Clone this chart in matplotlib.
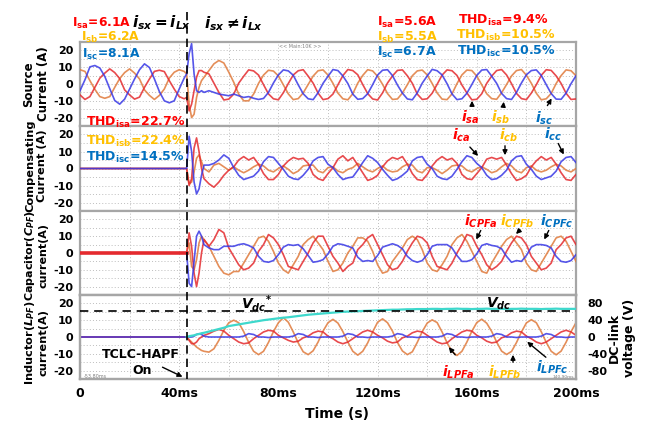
import numpy as np
import matplotlib
matplotlib.use("Agg")
import matplotlib.pyplot as plt
from matplotlib import transforms
from matplotlib.lines import Line2D

plt.rcParams['font.family'] = ['DejaVu Sans']
plt.rcParams['mathtext.fontset'] = 'dejavusans'
plt.rcParams['mathtext.default'] = 'bf'
plt.rcParams['axes.unicode_minus'] = False

# ---------------- data ----------------
t_ms = list(range(0, 43, 2)) + [43, 44, 45, 46, 47, 48, 49, 50] + list(range(52, 201, 2))
t_switch = 43
x_ticks = [0, 40, 80, 120, 160, 200]
x_ticklabels = ['0', '40ms', '80ms', '120ms', '160ms', '200ms']
i_ticks = [20, 10, 0, -10, -20]
v_ticks = [80, 40, 0, -40, -80]
vdc_ref = 62

zeros_pre = [0.0] * 22

# source currents
src_a = ([-6.5, -9.2, -7.5, -2.0, 3.5, 6.5, 9.0, 6.8, 3.2, -3.5, -6.5, -9.0, -7.8, -2.0, 3.0, 7.5, 8.2, 7.4, 2.0, -3.0, -7.5, -8.8]
         + [-8, -16, -12, -4, 4, 8, 8, 7]
         + [6.0, 0.5, -5.0, -9.5, -9.0, -6.0, 0.5, 4.6, 8.4, 7.8,
            5.3, -0.4, -5.9, -8.8, -9.4, -5.2, 0.3, 5.4, 7.9, 8.5,
            4.7, 0.5, -5.4, -9.3, -8.7, -6.0, -0.5, 5.0, 8.6, 8.0,
            5.5, -0.3, -5.7, -8.9, -9.5, -5.3, 0.6, 4.8, 8.1, 8.4,
            4.9, 0.4, -6.0, -9.2, -8.8, -5.5, -0.2, 5.3, 8.4, 7.9,
            5.1, -0.6, -5.3, -9.4, -9.1, -5.8, 0.4, 4.7, 8.0, 8.6,
            5.4, 0.2, -5.6, -8.7, -9.3, -5.4, -0.4, 5.2, 8.5, 8.1,
            4.8, 0.3, -5.5, -9.2, -8.9])
src_b = ([8.5, 7.5, 2.0, -3.2, -7.5, -8.5, -7.5, -2.0, 3.2, 6.8, 9.0, 6.5, 3.0, -3.5, -6.8, -9.2, -6.8, -3.0, 3.5, 7.0, 8.5, 7.5]
         + [6, -12, -20, -18, -8, -2, 2, 4]
         + [8, 12, 14, 12.5, 7, 1, -6, -10, -10, -6,
            0.4, 5.3, 8.2, 7.7, 4.8, -0.5, -5.9, -9.3, -8.7, -5.3,
            -0.3, 4.7, 7.9, 8.4, 5.3, 0.4, -5.4, -8.8, -9.4, -5.8,
            0.5, 5.1, 8.5, 7.8, 4.6, -0.2, -5.7, -9.2, -8.9, -5.4,
            -0.4, 4.9, 7.8, 8.3, 5.4, 0.3, -5.3, -9.0, -9.3, -5.9,
            0.2, 5.4, 8.3, 8.0, 4.7, -0.5, -5.8, -8.7, -9.1, -5.2,
            -0.3, 4.8, 8.0, 8.6, 5.2, 0.4, -5.5, -9.4, -8.8, -5.6,
            0.3, 5.0, 8.4, 7.9, 4.9])
src_c = ([-4.0, 2.5, 10.2, 11.0, 9.5, 4.5, -2.8, -9.8, -12.0, -9.0, -3.0, 3.0, 8.5, 12.0, 9.8, 3.0, -4.5, -10.0, -11.2, -10.0, -3.0, 3.5]
         + [6, 18, 24, 6, -4, -5, -4, -5]
         + [-4, -5, -6, -6.5, -7, -6, -7, -8, -7.5, -8.5,
            -9.2, -8.6, -5.0, 0.6, 5.4, 8.4, 7.8, 5.2, -0.5, -5.8,
            -8.8, -9.3, -5.2, 0.4, 4.6, 8.6, 8.0, 4.8, 0.3, -6.0,
            -9.1, -8.7, -5.8, -0.4, 5.3, 8.2, 8.5, 5.0, -0.6, -5.4,
            -8.9, -9.4, -5.3, 0.5, 4.8, 8.7, 7.9, 5.4, 0.2, -5.9,
            -9.3, -8.8, -5.5, -0.3, 5.1, 8.3, 8.6, 4.7, 0.4, -5.6,
            -8.7, -9.2, -5.0, 0.6, 5.5, 8.0, 8.4, 5.1, -0.4, -5.7,
            -9.0, -9.1, -5.4, 0.2, 4.9])

# compensating currents
comp_a = (zeros_pre + [0, -10, -6, 12, 18, 10, 0, -6]
          + [-9, -11, -8, -4, -1,
             1, 5, 7, 5, 6.5, 2.5, -3, -6.5, -6.5, -3.5,
             1.5, 4.5, 6.5, 5.5, 6, 3, -3.5, -6, -7, -3,
             0.5, 5.5, 7.5, 4.5, 6.5, 2, -2.5, -7, -6, -4,
             1, 4.5, 6.5, 5.5, 7, 2.5, -3, -6.5, -7, -3.5,
             1.5, 5, 7, 5, 6, 3, -3.5, -6, -6.5, -3,
             0.5, 5.5, 6.5, 5.5, 6.5, 2, -3, -7, -6, -4,
             1, 4.5, 7, 5, 6.5, 2.5, -2.5, -6.5, -7, -3.5])
comp_b = (zeros_pre + [0, -9, -8, -2, 6, 8, 4, 0]
          + [-2, 2, 3, 1, -1,
             1, -1, -2.5, -1, 1, 2.5, 1.5, -1, -2, 0,
             1.5, -0.5, -3, -1.5, 1.5, 2, 2, -1.5, -2.5, 0.5,
             1, -1.5, -2.5, -0.5, 0.5, 3, 1, -1, -2, 0,
             1.5, -1, -2, -1.5, 1, 2.5, 2, -1.5, -2.5, 0.5,
             0.5, -1, -3, -1, 1.5, 2, 1.5, -1, -2, 0,
             1, -0.5, -2.5, -1.5, 1, 3, 1.5, -1.5, -2.5, 0.5,
             1.5, -1, -2, -1, 1, 2.5, 1.5, -1, -2, 0])
comp_c = (zeros_pre + [0, 19, 10, -8, -15, -12, -4, 2]
          + [2, 3, 5, 8, 6,
             0.5, -4, -6.5, -5.5, -4.5, -1.5, 4, 7, 6.5, 3,
             -0.5, -4.5, -6, -6.5, -4, -0.5, 4.5, 6.5, 7, 2.5,
             0.5, -3.5, -6.5, -5.5, -5, -1, 3.5, 7.5, 6, 3.5,
             -0.5, -4, -7, -6, -4, -1.5, 4.5, 6.5, 7, 2.5,
             0, -4.5, -6, -6.5, -4.5, -0.5, 4, 7.5, 6.5, 3,
             0.5, -4, -6.5, -6, -4, -1, 4.5, 7, 7.5, 2.5,
             -0.5, -4.5, -6.5, -5.5, -4.5, -1.5, 4, 6.5, 7, 3.5])

# capacitor currents
cap_a = (zeros_pre + [0, 12, 4, -12, -20, -12, 0, 8]
         + [4, 8, 14, 12, 3,
            -2, -7, -10, -9, -6, 1, 5, 11, 9, 5,
            -1, -8, -9, -10, -5, 0, 6, 10, 10, 4,
            -2, -6, -11, -8, -6, 2, 5, 9, 11, 5,
            -1, -7, -10, -9, -5, 1, 6, 10, 9, 6,
            -2, -8, -9, -10, -6, 0, 5, 11, 10, 4,
            -1, -7, -10, -8, -5, 1, 6, 10, 9, 5,
            -2, -6, -10, -9, -6, 2, 5, 9, 10, 5])
cap_b = (zeros_pre + [0, 6, -8, -10, -4, 6, 10, 8]
         + [4, -2, -8, -12, -13,
            -11, -11, -6, -1, 4, 9, 10, 7, 1, -6,
            -10, -12, -7, -2, 5, 8, 10, 6, 2, -5,
            -11, -10, -6, 0, 4, 9, 9, 7, 1, -7,
            -12, -11, -5, -1, 3, 8, 10, 8, 2, -6,
            -10, -11, -7, -2, 5, 9, 11, 7, 1, -5,
            -11, -12, -6, -1, 4, 8, 10, 6, 2, -6,
            -10, -11, -6, -1, 4, 9, 10, 7, 1, -5])
cap_c = (zeros_pre + [0, -18, -20, -5, 10, 13, 10, 5]
         + [3, 2, 2, 4, 4,
            4, 5, 5.5, 4.5, 3, -2, -5, -5.5, -4.5, -1,
            3.5, 5, 4.5, 5, 2.5, -1.5, -5.5, -5, -4, -0.5,
            4, 5.5, 5, 4, 3, -2.5, -5, -4.5, -5, -1.5,
            3.5, 4.5, 5.5, 4.5, 2.5, -2, -4.5, -5.5, -4.5, -1,
            4, 5, 5, 5, 3, -1.5, -5, -5, -4, -0.5,
            4.5, 5.5, 4.5, 4, 2.5, -2, -5.5, -4.5, -5, -1.5,
            3.5, 5, 5, 4.5, 3, -2, -5, -5.5, -4.5, -1])

# inductor currents
ind_a = (zeros_pre + [0, -2, -4, -4, -3, -1, 0, 1]
         + [2, 3.5, 4.5, 3.5, 1,
            -1, -3, -4, -3.5, -1, 1, 3, 4, 3.5, 1,
            -0.5, -2, -3, -2.5, -0.5, 0.5, 2.5, 3.5, 3, 0.5,
            -1, -3, -4, -3, -1, 1, 3, 4, 3, 1,
            -0.5, -2.5, -3.5, -3, -0.5, 0.5, 2.5, 3.5, 3, 1,
            -1, -3, -4, -3.5, -1, 1, 3, 4, 3.5, 1,
            -0.5, -2.5, -3.5, -3, -0.5, 0.5, 2.5, 3.5, 3, 0.5,
            -1, -3, -4, -3, -1, 1, 3, 4, 3, 1])
ind_b = (zeros_pre + [0, -1.5, -3, -4.5, -6, -7, -8, -8.5]
         + [-9, -7, -2, 4, 8.5,
            10.0, 8.5, 3.2, -3.2, -8.5, -10.5, -8.5, -3.2, 3.2, 8.5,
            11.5, 8.8, 3.0, -3.5, -8.8, -10.5, -8.2, -3.0, 3.5, 8.5,
            10.5, 8.3, 3.2, -3.0, -8.5, -10.8, -8.5, -3.5, 3.0, 8.8,
            10.8, 8.5, 3.5, -3.2, -8.3, -10.5, -8.8, -3.2, 3.2, 8.3,
            10.2, 8.6, 3.0, -3.4, -8.6, -11.0, -8.5, -3.0, 3.4, 8.6,
            10.6, 8.2, 3.3, -3.0, -8.4, -10.4, -8.6, -3.3, 3.0, 8.4,
            10.3, 8.5, 3.1, -3.2, -8.5, -10.6, -8.4, -3.1, 3.2, 8.5])
ind_c = (zeros_pre + [0, 0, 0, 0.5, 1.5, 2, 1.5, 0.5]
         + [0, 0, 0, 0, 0,
            0, 0, 0.5, 2, 1.5, 0, 0, -0.3, 0, 0,
            0, 0, 0.5, 2, 1.5, 0, 0, -0.3, 0, 0,
            0, 0, 0.5, 2, 1.5, 0, 0, -0.3, 0, 0,
            0, 0, 0.5, 2, 1.5, 0, 0, -0.3, 0, 0,
            0, 0, 0.5, 2, 1.5, 0, 0, -0.3, 0, 0,
            0, 0, 0.5, 2, 1.5, 0, 0, -0.3, 0, 0,
            0, 0, 0.5, 2, 1.5, 0, 0, -0.3, 0, 0])

# DC-link voltage
vdc = ([np.nan] * 22 + [0, 2, 3, 4, 6, 7, 9, 10]
       + [13, 16, 19, 22, 26, 28, 30, 32, 34, 36,
          38, 40, 41.5, 43, 44.5, 46, 47, 48.5, 50, 51.5,
          53, 54, 55, 56, 57, 58, 59, 60, 60.5, 61,
          61.5, 62, 62.5, 63, 63.5, 64, 64.5, 65, 65, 65.5,
          66, 66, 66.5, 66.5, 66.5, 67, 67, 66.5, 67, 67,
          67.5, 67, 67, 66.5, 67, 67, 67.5, 67, 67, 67,
          66.5, 67, 67, 67.5, 67, 67, 67, 66.5, 67, 67,
          67.5, 67, 67, 67, 67])

# ---------------- figure ----------------
W, H = 654, 425
fig = plt.figure(figsize=(W / 100, H / 100), dpi=100)


def F(x, y):
    return (x / W, 1 - y / H)


C_RED, C_ORG, C_BLU = '#E42A2E', '#E07A3C', '#3838E6'
T_RED, T_YEL, T_BLU = '#FF0000', '#FFC000', '#0070C0'

panels = [(42, 126), (126, 211), (211, 295), (295, 379)]
axes = []
for top, bot in panels:
    ax = fig.add_axes([80 / W, 1 - bot / H, 496 / W, (bot - top) / H])
    ax.set_xlim(0, 200)
    ax.set_ylim(-25, 25)
    for y in range(-20, 25, 5):
        ax.axhline(y, color='#bdbdbd', lw=0.7, ls=(0, (1, 2.2)), zorder=0)
    for x in range(20, 200, 20):
        ax.axvline(x, color='#bdbdbd', lw=0.7, ls=(0, (1, 2.2)), zorder=0)
    for s in ax.spines.values():
        s.set_color('#a6a6a6')
        s.set_linewidth(1.6)
    ax.set_yticks(i_ticks)
    ax.set_yticklabels([str(v) for v in i_ticks], fontsize=8, fontweight='bold')
    ax.tick_params(axis='y', length=0, pad=5)
    ax.tick_params(axis='x', length=0)
    ax.set_xticks([])
    axes.append(ax)

ax1, ax2, ax3, ax4 = axes
t = np.array(t_ms, float)

lw = 1.2
al = 0.85
for ax, (a, b, c) in zip([ax1, ax2, ax3, ax4],
                         [(src_a, src_b, src_c), (comp_a, comp_b, comp_c),
                          (cap_a, cap_b, cap_c), (ind_a, ind_b, ind_c)]):
    ax.plot(t, b, color=C_ORG, lw=lw, alpha=al, zorder=3)
    ax.plot(t, a, color=C_RED, lw=lw, alpha=al, zorder=4)
    ax.plot(t, c, color=C_BLU, lw=lw, alpha=al, zorder=5)
# thick flat red in capacitor panel before switching
ax3.plot(t[:23], np.array(cap_a[:23]), color=C_RED, lw=2.6, zorder=6)

ax4.set_xticks(x_ticks)
ax4.set_xticklabels(x_ticklabels, fontsize=9, fontweight='bold')
ax4.tick_params(axis='x', length=0, pad=6)

ax4r = ax4.twinx()
ax4r.set_ylim(-100, 100)
ax4r.set_yticks(v_ticks)
ax4r.set_yticklabels([str(v) for v in v_ticks], fontsize=8, fontweight='bold')
ax4r.tick_params(axis='y', length=0, pad=8)
for s in ax4r.spines.values():
    s.set_color('#a6a6a6')
    s.set_linewidth(1.6)
ax4r.plot(t, vdc, color='#3ED8CC', lw=1.6, zorder=6)
ax4r.axhline(vdc_ref, color='black', lw=1.2, ls=(0, (5, 3.5)), zorder=7)

# switching dashed line across all panels
tr = transforms.blended_transform_factory(ax1.transData, fig.transFigure)
fig.add_artist(Line2D([t_switch, t_switch], [1 - 12 / H, 1 - 379 / H], transform=tr,
                      color='black', lw=1.2, ls=(0, (5, 3))))

# ---------------- texts ----------------
def txt(x, y, s, color='black', size=9, ha='left', va='center', **kw):
    fig.text(*F(x, y), s, color=color, fontsize=size, fontweight='bold', ha=ha, va=va, **kw)

txt(72, 23, r'I$_{sa}$=6.1A', T_RED, size=8.8)
txt(81, 37, r'I$_{sb}$=6.2A', T_YEL, size=8.8)
txt(82, 54, r'I$_{sc}$=8.1A', T_BLU, size=8.8)
txt(377, 22, r'I$_{sa}$=5.6A', T_RED)
txt(377, 37, r'I$_{sb}$=5.5A', T_YEL)
txt(377, 52, r'I$_{sc}$=6.7A', T_BLU)
txt(458, 20, r'THD$_{isa}$=9.4%', T_RED)
txt(456, 35, r'THD$_{isb}$=10.5%', T_YEL)
txt(457, 51, r'THD$_{isc}$=10.5%', T_BLU)
txt(86, 122, r'THD$_{isa}$=22.7%', T_RED)
txt(86, 141, r'THD$_{isb}$=22.4%', T_YEL)
txt(86, 157, r'THD$_{isc}$=14.5%', T_BLU)

txt(162, 23, r'$\mathbfit{i_{sx}}\mathbf{=}\mathbfit{i_{Lx}}$', size=11, ha='center')
txt(234, 24, r'$\mathbfit{i_{sx}}\mathbf{\neq}\mathbfit{i_{Lx}}$', size=11, ha='center')

txt(256, 304, r'$\mathbfit{V_{dc}}^{\mathbf{*}}$', size=10, ha='center')
txt(499, 304, r'$\mathbfit{V_{dc}}$', size=10, ha='center')
txt(141, 354, 'TCLC-HAPF', size=9, ha='center')
txt(142, 370, 'On', size=9, ha='center')

labels = [
    (470, 117, r'$\mathbfit{i_{sa}}$', T_RED), (501, 117, r'$\mathbfit{i_{sb}}$', T_YEL),
    (544, 118, r'$\mathbfit{i_{sc}}$', T_BLU),
    (461, 135, r'$\mathbfit{i_{ca}}$', T_RED), (509, 135, r'$\mathbfit{i_{cb}}$', T_YEL),
    (553, 134, r'$\mathbfit{i_{cc}}$', T_BLU),
    (481, 221, r'$\mathbfit{i_{CPFa}}$', T_RED), (517, 221, r'$\mathbfit{i_{CPFb}}$', T_YEL),
    (557, 221, r'$\mathbfit{i_{CPFc}}$', T_BLU),
    (458, 372, r'$\mathbfit{i_{LPFa}}$', T_RED), (505, 372, r'$\mathbfit{i_{LPFb}}$', T_YEL),
    (552, 367, r'$\mathbfit{i_{LPFc}}$', T_BLU),
]
for x, y, s, c in labels:
    txt(x, y, s, c, size=10, ha='center')

arrows = [((472, 109), (472, 98)), ((503, 109), (504, 99)), ((546, 108), (553, 96)),
          ((468, 145), (480, 158)), ((505, 143), (505, 158)), ((557, 141), (565, 157)),
          ((482, 228), (475, 242)), ((522, 228), (514, 236)), ((550, 228), (543, 242)),
          ((457, 357), (447, 345)), ((513, 365), (513, 352)), ((548, 359), (525, 340)),
          ((160, 366), (185, 378))]
for tail, head in arrows:
    fig.add_artist(matplotlib.patches.FancyArrowPatch(
        F(*tail), F(*head), transform=fig.transFigure, arrowstyle='-|>',
        mutation_scale=7, color='black', lw=1.0))

# axis labels
def vlab(x, y, s, size=8.5):
    fig.text(*F(x, y), s, rotation=90, fontsize=size, fontweight='bold',
             ha='center', va='center', linespacing=1.15, multialignment='center')

vlab(36, 84, 'Source\nCurrent (A)')
vlab(36, 166, 'Compensating\nCurrent (A)', size=8.2)
vlab(36, 256, 'Capacitor($\\mathbfit{C_{PF}}$)\ncurrent(A)', size=8)
vlab(36, 343, 'Inductor($\\mathbfit{L_{PF}}$)\ncurrent(A)', size=8.2)
vlab(622, 338, 'DC-link\nvoltage (V)', size=9)
txt(337, 414, 'Time (s)', size=10, ha='center')

# small scope annotations
fig.text(*F(300, 46), '<< Main:10K >>', fontsize=3.5, color='#808080', ha='center', va='center')
fig.text(*F(84, 376), '-53.80ms', fontsize=3.5, color='#808080', ha='left', va='center')
fig.text(*F(574, 377), '140.90ms', fontsize=3.2, color='#808080', ha='right', va='center')

fig.savefig('out.png', dpi=100)
